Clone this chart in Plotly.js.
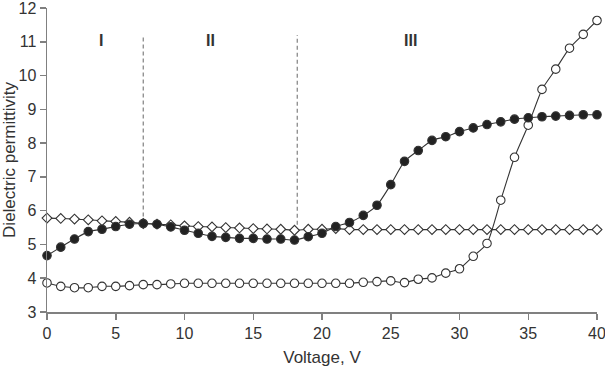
<!DOCTYPE html>
<html>
<head>
<meta charset="utf-8">
<script src="https://cdn.plot.ly/plotly-3.0.1.min.js"></script>
<style>html,body{margin:0;padding:0;background:#fff;}#chart{width:605px;height:369px;}</style>
</head>
<body>
<div id="chart"></div>
<script>
var voltage = [0,1,2,3,4,5,6,7,8,9,10,11,12,13,14,15,16,17,18,19,20,21,22,23,24,25,26,27,28,29,30,31,32,33,34,35,36,37,38,39,40];
var filledCircles = [4.67,4.92,5.16,5.38,5.45,5.53,5.60,5.62,5.60,5.52,5.42,5.33,5.24,5.21,5.18,5.18,5.16,5.16,5.13,5.23,5.33,5.53,5.65,5.86,6.16,6.77,7.46,7.78,8.08,8.19,8.34,8.45,8.55,8.63,8.71,8.75,8.78,8.80,8.82,8.84,8.84];
var openCircles = [3.86,3.76,3.72,3.72,3.76,3.76,3.78,3.81,3.81,3.83,3.85,3.85,3.85,3.85,3.85,3.85,3.85,3.85,3.85,3.85,3.85,3.85,3.85,3.88,3.90,3.92,3.87,3.97,4.01,4.15,4.28,4.65,5.03,6.31,7.58,8.53,9.59,10.19,10.81,11.22,11.63];
var diamonds = [5.78,5.77,5.75,5.73,5.70,5.68,5.66,5.62,5.60,5.58,5.55,5.53,5.52,5.50,5.49,5.47,5.46,5.45,5.42,5.45,5.45,5.47,5.44,5.44,5.44,5.44,5.44,5.44,5.44,5.44,5.44,5.44,5.44,5.44,5.44,5.44,5.44,5.44,5.44,5.44,5.44];
var boundaryX = [7, 18.2];
var boundaryTop = 11.2;
var boundaryBottom = [5.62, 5.58];
var regionLabels = ['I','II','III'];
var regionLabelX = [3.94, 11.9, 26.4];
var regionLabelY = 11.03;

var lineColor = '#333333';
function trace(y, fill, sym, size){
  return {x: voltage, y: y, type:'scatter', mode:'lines+markers',
    line:{color:lineColor, width:1.1, shape:'spline', smoothing:0.6},
    marker:{symbol:sym, size:size, color:fill, line:{color:lineColor, width:1.1}},
    showlegend:false, hoverinfo:'skip', cliponaxis:false};
}
var data = [
  trace(diamonds, '#ffffff', 'diamond', 7.5),
  trace(openCircles, '#ffffff', 'circle', 8.5),
  trace(filledCircles, '#222222', 'circle', 8.5)
];
var shapes = boundaryX.map(function(x,i){
  return {type:'line', xref:'x', yref:'y', x0:x, x1:x, y0:boundaryBottom[i], y1:boundaryTop,
    line:{color:'#808080', width:1.2, dash:'4px,3px'}, layer:'below'};
});
var annotations = regionLabels.map(function(t,i){
  return {x:regionLabelX[i], y:regionLabelY, xref:'x', yref:'y', text:'<b>'+t+'</b>', showarrow:false,
    font:{family:'Liberation Sans, Arial, sans-serif', size:16, color:'#333333'}};
});
var layout = {
  width:605, height:369,
  margin:{l:47, r:8, t:8, b:57},
  paper_bgcolor:'#fff', plot_bgcolor:'#fff',
  font:{family:'Liberation Sans, Arial, sans-serif', size:16, color:'#333333'},
  xaxis:{range:[0,40], tickvals:[0,5,10,15,20,25,30,35,40], showgrid:false, zeroline:false,
    showline:true, linecolor:'#808080', linewidth:1.5, ticks:'outside', ticklen:6, tickcolor:'#808080', tickwidth:1.5,
    ticklabeloverflow:'allow',
    title:{text:'Voltage, V', font:{size:17, color:'#333333'}, standoff:10}, tickfont:{size:16, color:'#333333'}},
  yaxis:{range:[3,12], tickvals:[3,4,5,6,7,8,9,10,11,12], showgrid:false, zeroline:false,
    showline:true, linecolor:'#808080', linewidth:1.5, ticks:'outside', ticklen:6, tickcolor:'#808080', tickwidth:1.5,
    ticklabeloverflow:'allow',
    title:{text:'Dielectric permittivity', font:{size:17, color:'#333333'}, standoff:3}, tickfont:{size:16, color:'#333333'}},
  shapes:shapes, annotations:annotations
};
Plotly.newPlot('chart', data, layout, {staticPlot:true, displayModeBar:false});
</script>
</body>
</html>
